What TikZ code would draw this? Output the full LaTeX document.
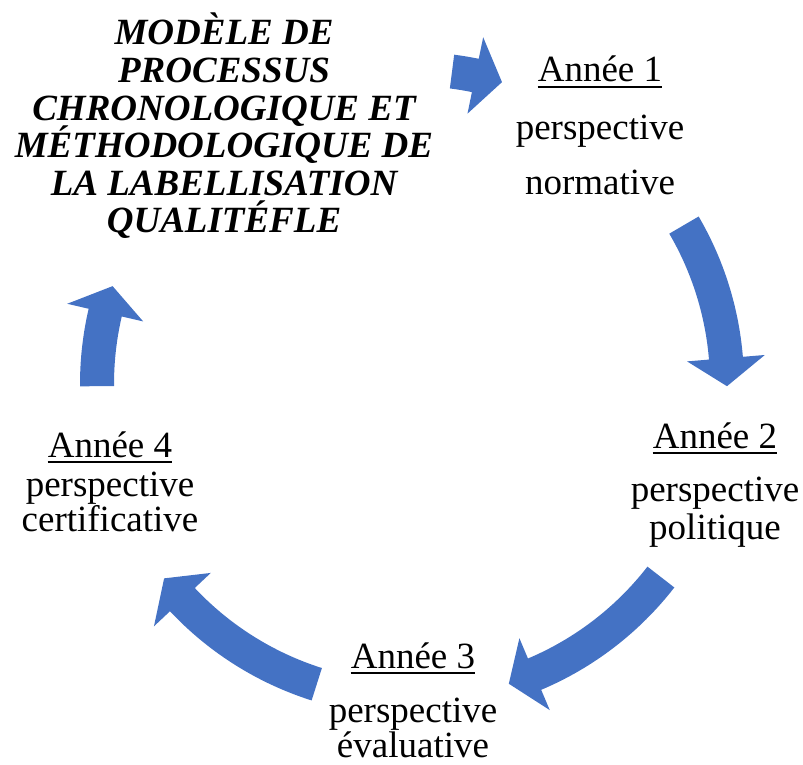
\documentclass[tikz,border=0pt]{standalone}
\usepackage{fontspec}
\setmainfont{Liberation Serif}
\definecolor{cycleblue}{HTML}{4472C4}
\tikzset{
  yeartext/.style={anchor=base, inner sep=0pt, font=\fontsize{37}{40}\selectfont},
  titletext/.style={yeartext, font=\fontsize{37}{40}\selectfont\bfseries\itshape},
  cyclearrow/.style={fill=cycleblue, draw=none},
  yearline/.style={line width=1.6pt}
}
\begin{document}
\begin{tikzpicture}[x=1pt, y=1pt]
    \useasboundingbox (0,0) rectangle (803,764);
    \coordinate (centre) at (412,380);

    % Curved arrows: tail angle / head base angle / tip angle
    \foreach \a/\h/\t in {82.7/78.4/73.4, 30.3/4.7/-0.4, -37.8/-67.1/-72.1,
                          -107.6/-136.8/-141.9, 180.4/166.9/161.9}
        \fill[cyclearrow] ([shift={(centre)}]\a:298) arc[start angle=\a, end angle=\h, radius=298]
            -- ([shift={(centre)}]\h:276) -- ([shift={(centre)}]\t:315)
            -- ([shift={(centre)}]\h:354) -- ([shift={(centre)}]\h:332)
            arc[start angle=\h, end angle=\a, radius=332] -- cycle;

    % Title
    \foreach \ln [count=\i] in {MODÈLE DE, PROCESSUS, CHRONOLOGIQUE ET,
                                MÉTHODOLOGIQUE DE, LA LABELLISATION, QUALITÉFLE}
        \node[titletext] (title\i) at (224, {719-37.6*(\i-1)}) {\ln};

    % Année 1
    \node[yeartext] (y1) at (600,682) {Année 1};
    \node[yeartext] (y1b) at (600,624) {perspective};
    \node[yeartext] (y1c) at (600,569) {normative};
    \draw[yearline] ([yshift=-5]y1.base west) -- ([yshift=-5]y1.base east);

    % Année 2
    \node[yeartext] (y2) at (715,316) {Année 2};
    \node[yeartext] (y2b) at (715,263) {perspective};
    \node[yeartext] (y2c) at (715,225) {politique};
    \draw[yearline] ([yshift=-5]y2.base west) -- ([yshift=-5]y2.base east);

    % Année 3
    \node[yeartext] (y3) at (413,96) {Année 3};
    \node[yeartext] (y3b) at (413,42) {perspective};
    \node[yeartext] (y3c) at (413,7) {évaluative};
    \draw[yearline] ([yshift=-5]y3.base west) -- ([yshift=-5]y3.base east);

    % Année 4
    \node[yeartext] (y4) at (110,307) {Année 4};
    \node[yeartext] (y4b) at (110,268) {perspective};
    \node[yeartext] (y4c) at (110,233) {certificative};
    \draw[yearline] ([yshift=-5]y4.base west) -- ([yshift=-5]y4.base east);
\end{tikzpicture}
\end{document}
